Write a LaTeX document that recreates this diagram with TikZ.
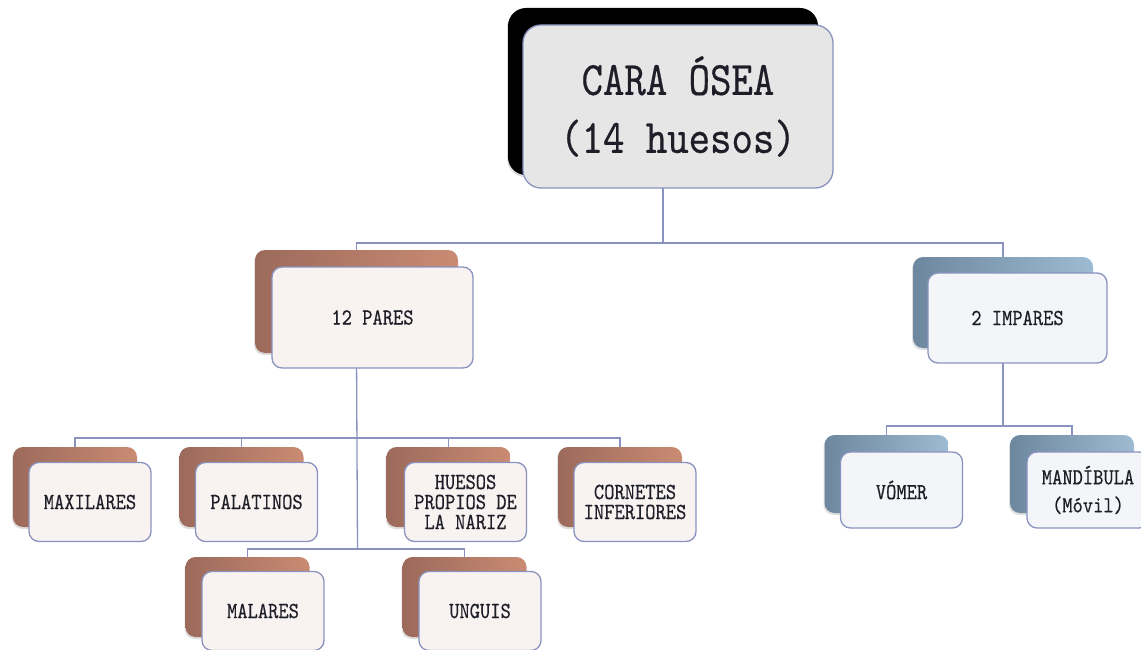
\documentclass[tikz,border=0pt]{standalone}
\usepackage{fontspec}
\newfontfamily\boxfont[FakeStretch=0.85,FakeBold=0.4]{lmmono10-regular.otf}
\usetikzlibrary{backgrounds,shadows}
\definecolor{linea}{HTML}{8A93BF}
\definecolor{cafeA}{HTML}{9C6A5B}
\definecolor{cafeB}{HTML}{CA8B73}
\definecolor{azulA}{HTML}{6D879E}
\definecolor{azulB}{HTML}{9DBBD2}
\definecolor{rosado}{HTML}{F8F2F0}
\definecolor{celeste}{HTML}{F3F5F8}
\definecolor{gris}{HTML}{E6E6E6}
\definecolor{letra}{HTML}{1E1E28}

\begin{document}
\begin{tikzpicture}[x=1pt,y=-1pt,
  back/.style={rectangle,rounded corners=10pt,inner sep=0pt,minimum width=124pt,minimum height=80pt,
    drop shadow={opacity=.25,shadow xshift=-1pt,shadow yshift=-2pt}},
  backcafe/.style={back,left color=cafeA,right color=cafeB},
  backazul/.style={back,left color=azulA,right color=azulB,minimum height=78pt},
  front/.style={rectangle,rounded corners=10pt,inner sep=0pt,draw=linea,line width=1.3pt,
    minimum width=122pt,minimum height=79pt,align=center,text=letra,
    font=\boxfont\fontsize{23}{20}\selectfont},
  frontcafe/.style={front,fill=rosado},
  frontazul/.style={front,fill=celeste,minimum height=76pt},
  conector/.style={draw=linea,line width=1.3pt}]
\clip (0,0) rectangle (1141,650);
\lineskiplimit=-100pt

% raiz
\node[back,fill=black,rounded corners=18pt,minimum width=310pt,minimum height=167pt] (cara) at (663,91.5) {};
\node[front,fill=gris,rounded corners=18pt,minimum width=310pt,minimum height=163pt,
  font=\boxfont\fontsize{48}{58}\selectfont] (caraF) at (678,106.5) {CARA ÓSEA\\(14 huesos)};

% segundo nivel
\node[backcafe,minimum width=203pt,minimum height=103pt] (pares) at (356.5,301.5) {};
\node[frontcafe,minimum width=201pt,minimum height=101pt] (paresF) at (372.5,317.5) {12 PARES};
\node[backazul,minimum width=180pt,minimum height=91pt] (impares) at (1003,302.5) {};
\node[frontazul,minimum width=179pt,minimum height=90pt] (imparesF) at (1017.5,318) {2 IMPARES};

% pares
\node[backcafe] (maxilares) at (75,487) {};
\node[frontcafe] (maxilaresF) at ([shift={(15,15)}]maxilares.center) {MAXILARES};
\node[backcafe] (palatinos) at (241.5,487) {};
\node[frontcafe] (palatinosF) at ([shift={(15,15)}]palatinos.center) {PALATINOS};
\node[backcafe] (huesos) at (448.5,487) {};
\node[frontcafe] (huesosF) at ([shift={(17,15)}]huesos.center) {HUESOS\\PROPIOS DE\\LA NARIZ};
\node[backcafe] (cornetes) at (620,487) {};
\node[frontcafe] (cornetesF) at ([shift={(15,15)}]cornetes.center) {CORNETES\\INFERIORES};
\node[backcafe] (malares) at (247.5,597) {};
\node[frontcafe] (malaresF) at ([shift={(15.5,14)}]malares.center) {MALARES};
\node[backcafe] (unguis) at (464.5,597) {};
\node[frontcafe] (unguisF) at ([shift={(15.5,14)}]unguis.center) {UNGUIS};

% impares
\node[backazul] (vomer) at (886.5,474) {};
\node[frontazul] (vomerF) at ([shift={(15,16)}]vomer.center) {VÓMER};
\node[backazul] (mandibula) at (1072,474) {};
\node[frontazul] (mandibulaF) at ([shift={(16,16)}]mandibula.center) {MANDÍBULA\\[8pt](Móvil)};

\begin{scope}[on background layer]
\coordinate (j1) at (663,243);
\coordinate (j2) at (357.5,438);
\coordinate (j3) at (357.5,549);
\coordinate (j4) at (1003,426);
\draw[conector] (cara.south) -- (j1);
\draw[conector] (j1) -| (pares.north);
\draw[conector] (j1) -| (impares.north);
\draw[conector] (pares.south) -- (j3);
\draw[conector] (j2) -| (maxilares.north);
\draw[conector] (j2) -| (palatinos.north);
\draw[conector] (j2) -| (huesos.north);
\draw[conector] (j2) -| (cornetes.north);
\draw[conector] (j3) -| (malares.north);
\draw[conector] (j3) -| (unguis.north);
\draw[conector] (impares.south) -- (j4);
\draw[conector] (j4) -| (vomer.north);
\draw[conector] (j4) -| (mandibula.north);
\end{scope}
\end{tikzpicture}
\end{document}
